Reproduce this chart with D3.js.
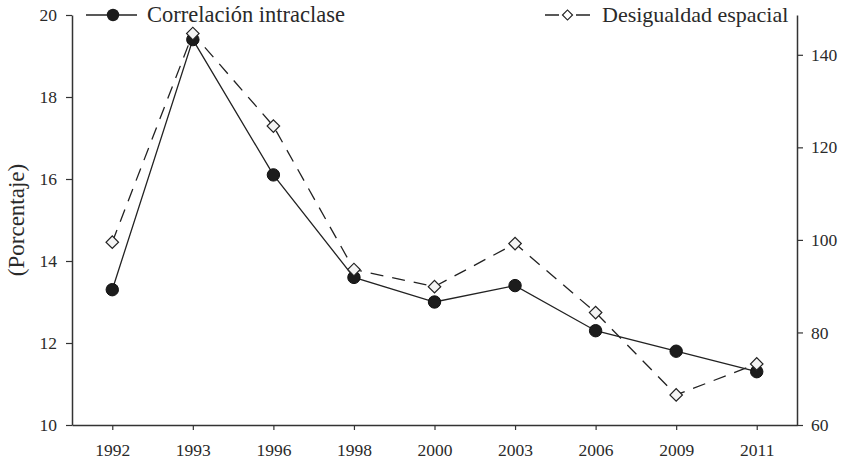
<!DOCTYPE html>
<html>
<head>
<meta charset="utf-8">
<script src="https://cdn.jsdelivr.net/npm/d3@7"></script>
<style>
  body { margin: 0; background: #fff; }
  text { font-family: "Liberation Serif", "DejaVu Serif", serif; fill: #2a2a2a; }
</style>
</head>
<body>
<svg id="chart" width="844" height="463"></svg>
<script>
// years on the x axis (evenly spaced categories)
const years = ["1992", "1993", "1996", "1998", "2000", "2003", "2006", "2009", "2011"];
// correlación intraclase (%), left axis
const correlacion = [13.3, 19.4, 16.1, 13.6, 13.0, 13.4, 12.3, 11.8, 11.3];
// desigualdad espacial, right axis
const desigualdad = [99.5, 144.6, 124.6, 93.6, 89.9, 99.2, 84.3, 66.5, 73.2];

const leftTicks = [10, 12, 14, 16, 18, 20];
const rightTicks = [60, 80, 100, 120, 140];

var svg = d3.select("#chart"),
    margin = {top: 15, right: 47, bottom: 38, left: 72},
    width = +svg.attr("width") - margin.left - margin.right,
    height = +svg.attr("height") - margin.top - margin.bottom,
    g = svg.append("g").attr("transform", "translate(" + margin.left + "," + margin.top + ")");

var x = d3.scalePoint()
    .domain(years)
    .range([0, width])
    .padding(0.5);
var y = d3.scaleLinear()
    .domain([10, 20])
    .range([height, 0]);
var y2 = d3.scaleLinear()
    .domain([60, 148.6])
    .range([height, 0]);

// axes
var xAxis = g.append("g")
    .attr("transform", "translate(0," + height + ")")
    .call(d3.axisBottom(x).tickSize(5).tickSizeOuter(0).tickPadding(14));
var yAxis = g.append("g")
    .call(d3.axisLeft(y).tickValues(leftTicks).tickSize(6).tickSizeOuter(0).tickPadding(9));
var y2Axis = g.append("g")
    .attr("transform", "translate(" + width + ",0)")
    .call(d3.axisRight(y2).tickValues(rightTicks).tickSize(6).tickSizeOuter(0).tickPadding(8));

[xAxis, yAxis, y2Axis].forEach(function(a) {
  a.selectAll("text").style("font-size", "17.5px").attr("fill", "#2a2a2a");
  a.selectAll("line").attr("stroke", "#333").attr("stroke-width", 1.2);
  a.select(".domain").attr("stroke", "#333").attr("stroke-width", 1.5);
});

svg.append("text")
    .attr("transform", "translate(24," + (margin.top + 205) + ") rotate(-90)")
    .attr("text-anchor", "middle")
    .style("font-size", "23px")
    .text("(Porcentaje)");

// lines
var line1 = d3.line()
    .x((d, i) => x(years[i]))
    .y((d) => y(d));
var line2 = d3.line()
    .x((d, i) => x(years[i]))
    .y((d) => y2(d));

g.append("path")
    .datum(desigualdad)
    .attr("fill", "none")
    .attr("stroke", "#222")
    .attr("stroke-width", 1.3)
    .attr("stroke-dasharray", "13,9")
    .attr("d", line2);

g.append("path")
    .datum(correlacion)
    .attr("fill", "none")
    .attr("stroke", "#222")
    .attr("stroke-width", 1.3)
    .attr("d", line1);

var diamond = d3.symbol().type(d3.symbolSquare).size(78);

g.selectAll(".circ")
    .data(correlacion)
  .enter().append("circle")
    .attr("class", "circ")
    .attr("cx", (d, i) => x(years[i]))
    .attr("cy", (d) => y(d))
    .attr("r", 6.2)
    .attr("fill", "#1c1c1c")
    .attr("stroke", "#111")
    .attr("stroke-width", 1);

g.selectAll(".diam")
    .data(desigualdad)
  .enter().append("path")
    .attr("class", "diam")
    .attr("d", diamond)
    .attr("transform", (d, i) => "translate(" + x(years[i]) + "," + y2(d) + ") rotate(45)")
    .attr("fill", "#f4f4f4")
    .attr("stroke", "#222")
    .attr("stroke-width", 1.2);

// legend
var leg1 = svg.append("g").attr("transform", "translate(86,15)");
leg1.append("line").attr("x1", 0).attr("x2", 51).attr("stroke", "#222").attr("stroke-width", 1.5);
leg1.append("circle").attr("cx", 27).attr("r", 6.2).attr("fill", "#1c1c1c");
leg1.append("text").attr("x", 61).attr("dy", "0.33em").style("font-size", "22.5px").text("Correlación intraclase");

var leg2 = svg.append("g").attr("transform", "translate(545,15)");
leg2.append("line").attr("x1", 0).attr("x2", 14).attr("stroke", "#222").attr("stroke-width", 1.5);
leg2.append("line").attr("x1", 31).attr("x2", 45).attr("stroke", "#222").attr("stroke-width", 1.5);
leg2.append("path").attr("d", d3.symbol().type(d3.symbolSquare).size(50))
    .attr("transform", "translate(22.5,0) rotate(45)")
    .attr("fill", "#fff").attr("stroke", "#222").attr("stroke-width", 1.2);
leg2.append("text").attr("x", 57).attr("dy", "0.33em").style("font-size", "22px").text("Desigualdad espacial");
</script>
</body>
</html>
